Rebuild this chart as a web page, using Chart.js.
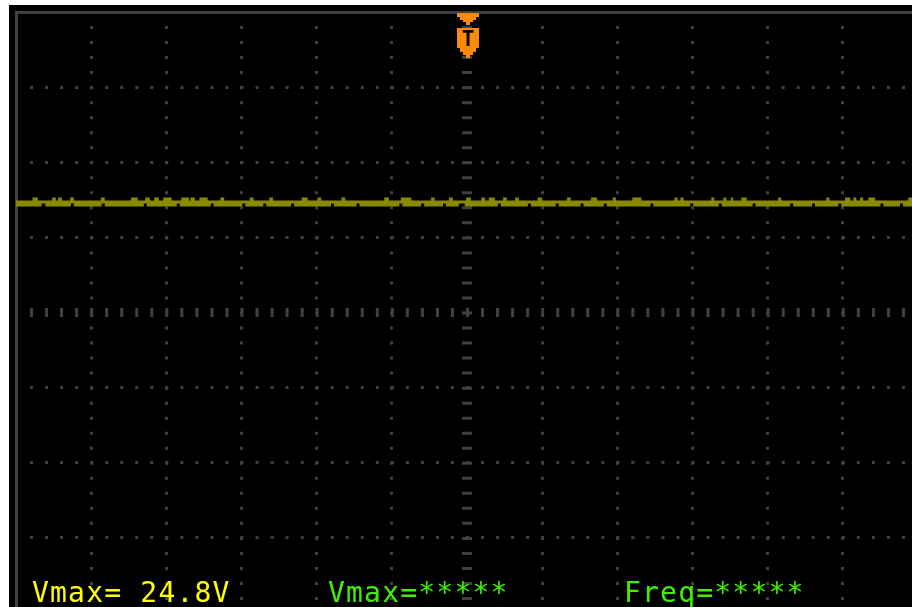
<!DOCTYPE html>
<html>
<head>
<meta charset="utf-8">
<script src="https://cdn.jsdelivr.net/npm/chart.js@4.4.1/dist/chart.umd.min.js"></script>
<style>
  html, body { margin: 0; padding: 0; background: #fff; overflow: hidden; width: 912px; height: 607px; }
  #wrap { position: absolute; left: 9px; top: 5px; }
  canvas { display: block; background: #000; }
</style>
</head>
<body>
<div id="wrap"><canvas id="scope" width="916" height="616"></canvas></div>
<script>
// screen is 12 x 8 divisions, everything below is in divisions
const xDivisions = [-6, 6];
const yDivisions = [-4, 4];
const subStep = 0.2;

// CH1: noisy flat trace, drawn as its top/bottom envelope
const traceTop = 1.49;
const traceBottom = 1.41;
const glitchTop = 1.53;
const notchBottom = 1.45;
const glitchStart = [-5.78, -5.52, -5.44, -5.28, -4.87, -4.47, -4.28, -4.16, -4.04, -3.80, -3.68, -3.56, -3.28, -2.89, -2.63, -2.20, -1.99, -1.67, -1.10, -0.88, -0.48, -0.24, -0.01, 0.19, 0.29, 0.48, 0.64, 0.94, 1.33, 1.65, 1.94, 2.20, 2.76, 2.84, 3.25, 3.41, 3.51, 3.65, 4.14, 4.78, 5.03, 5.14, 5.23, 5.34, 5.87];
const glitchEnd = [-5.71, -5.47, -5.39, -5.23, -4.82, -4.38, -4.22, -4.10, -3.93, -3.70, -3.62, -3.45, -3.23, -2.84, -2.58, -2.12, -1.94, -1.62, -1.04, -0.74, -0.43, -0.19, 0.05, 0.24, 0.37, 0.53, 0.69, 1.00, 1.38, 1.73, 1.98, 2.32, 2.80, 2.88, 3.29, 3.45, 3.54, 3.72, 4.18, 4.82, 5.10, 5.18, 5.27, 5.43, 5.92];
const notchStart = [-5.66, -5.27, -4.86, -4.30, -3.86, -3.41, -2.99, -2.71, -2.34, -1.81, -1.47, -0.90, -0.61, -0.32, -0.11, 0.41, 0.81, 1.18, 1.51, 1.82, 2.44, 2.97, 3.35, 3.80, 4.30, 4.59, 4.94, 5.50, 5.76];
const notchEnd = [-5.61, -5.23, -4.82, -4.26, -3.82, -3.37, -2.95, -2.67, -2.30, -1.77, -1.43, -0.86, -0.57, -0.28, -0.03, 0.45, 0.85, 1.22, 1.55, 1.86, 2.48, 3.01, 3.39, 3.84, 4.34, 4.63, 4.98, 5.54, 5.80];

const triggerTime = [0];

const readoutText = ['Vmax= 24.8V', 'Vmax=*****', 'Freq=*****'];
const readoutColor = ['#ffff00', '#40f000', '#40f000'];

const gridColor = '#404040';
const traceColor = '#8a8a00';
const triggerColor = '#ff8a0a';

function envelope(level, peak, starts, ends) {
    const pts = [{x: xDivisions[0], y: level}];
    starts.forEach((s, i) => {
        pts.push({x: s, y: peak});
        pts.push({x: ends[i], y: level});
    });
    pts.push({x: xDivisions[1], y: level});
    return pts;
}

const isMajor = v => Math.abs(v - Math.round(v)) < 1e-6;

// dotted graticule, tick bumps on the frame for the sub-divisions
function dotPattern(ctx, vertical) {
    const v = ctx.tick ? ctx.tick.value : 0;
    if (!isMajor(v)) return [3, 3000];
    const area = ctx.chart.chartArea;
    const step = area ? (vertical ? area.height / 40 : area.width / 60) : 15;
    return [3, step - 3];
}
function lineWidthFor(ctx, centreWidth) {
    const v = ctx.tick ? ctx.tick.value : 1;
    return Math.abs(v) < 1e-6 ? centreWidth : 3;
}

function makeTriggerIcon() {
    const c = document.createElement('canvas');
    c.width = 26;
    c.height = 92;
    const g = c.getContext('2d');
    g.fillStyle = triggerColor;
    [[3, 47, 22, 4], [6, 51, 16, 3], [9, 54, 10, 2], [12, 56, 4, 3],
     [3, 62, 22, 20], [6, 82, 16, 4], [9, 86, 10, 3], [12, 89, 4, 3]]
        .forEach(r => g.fillRect(r[0], r[1], r[2], r[3]));
    g.fillStyle = '#000';
    g.font = 'bold 21px "DejaVu Sans Mono"';
    g.textAlign = 'center';
    g.fillText('T', 14, 80);
    return c;
}

const readoutPlugin = {
    id: 'readouts',
    afterDraw(chart) {
        const {ctx, chartArea} = chart;
        ctx.save();
        ctx.font = '28px "DejaVu Sans Mono"';
        ctx.letterSpacing = '1.2px';
        ctx.textBaseline = 'alphabetic';
        readoutText.forEach((t, i) => {
            ctx.fillStyle = readoutColor[i];
            ctx.fillText(t, chartArea.left + 16 + i * 296, chartArea.bottom - 11);
        });
        ctx.restore();
    }
};

new Chart(document.getElementById('scope'), {
    type: 'line',
    data: {
        datasets: [
            {
                label: 'Trigger',
                data: triggerTime.map(t => ({x: t, y: yDivisions[1]})),
                showLine: false,
                pointStyle: makeTriggerIcon(),
                pointRadius: 6,
                clip: false,
                order: 1
            },
            {
                label: 'CH1 max',
                data: envelope(traceTop, glitchTop, glitchStart, glitchEnd),
                stepped: 'before',
                borderWidth: 0,
                borderColor: 'transparent',
                backgroundColor: traceColor,
                fill: '+1',
                pointRadius: 0,
                order: 2
            },
            {
                label: 'CH1 min',
                data: envelope(traceBottom, notchBottom, notchStart, notchEnd),
                stepped: 'before',
                borderWidth: 0,
                borderColor: 'transparent',
                backgroundColor: traceColor,
                fill: false,
                pointRadius: 0,
                order: 3
            }
        ]
    },
    options: {
        responsive: false,
        animation: false,
        devicePixelRatio: 1,
        events: [],
        layout: {padding: {left: 5, top: 5, right: 7, bottom: 8}},
        plugins: {
            legend: {display: false},
            tooltip: {enabled: false}
        },
        scales: {
            x: {
                type: 'linear',
                position: 'top',
                min: xDivisions[0],
                max: xDivisions[1],
                ticks: {display: false, stepSize: subStep},
                grid: {color: gridColor, drawTicks: false, lineWidth: c => lineWidthFor(c, 10)},
                border: {display: true, color: gridColor, width: 3, dash: c => dotPattern(c, true), dashOffset: 3}
            },
            y: {
                type: 'linear',
                position: 'left',
                min: yDivisions[0],
                max: yDivisions[1],
                ticks: {display: false, stepSize: subStep},
                grid: {color: gridColor, drawTicks: false, lineWidth: c => lineWidthFor(c, 9)},
                border: {display: true, color: gridColor, width: 3, dash: c => dotPattern(c, false), dashOffset: 3}
            }
        }
    },
    plugins: [readoutPlugin]
});
</script>
</body>
</html>
